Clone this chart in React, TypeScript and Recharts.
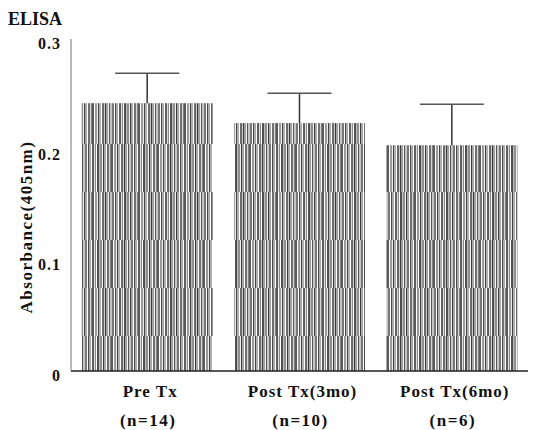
import React from 'react';
import { BarChart, Bar, XAxis, YAxis, Label } from 'recharts';

const categories = ['Pre Tx', 'Post Tx(3mo)', 'Post Tx(6mo)'];
const groupSizes = ['(n=14)', '(n=10)', '(n=6)'];
const meanAbsorbance = [0.242, 0.224, 0.204];
const errorAbsorbance = [0.027, 0.027, 0.037];
const yTicks = [0, 0.1, 0.2, 0.3];
const yTickLabels = ['0', '0.1', '0.2', '0.3'];

const data = categories.map((c, i) => ({
  name: c,
  n: groupSizes[i],
  value: meanAbsorbance[i],
  err: errorAbsorbance[i],
}));

const textStyle = { fontFamily: 'Liberation Serif', fontWeight: 700 } as React.CSSProperties;

const PatternBar = (props: any) => {
  const { x, y, width, height, payload } = props;
  const pxPerUnit = height / payload.value;
  const errTop = y - payload.err * pxPerUnit;
  const cx = x + width / 2;
  return (
    <g>
      <rect x={x} y={y} width={width} height={height} fill="url(#stripes)" />
      <line x1={cx} y1={y} x2={cx} y2={errTop} stroke="#333" strokeWidth={1.5} />
      <line x1={cx - 32} y1={errTop} x2={cx + 32} y2={errTop} stroke="#555" strokeWidth={1.5} />
    </g>
  );
};

const XTick = (props: any) => {
  const { x, y, index } = props;
  return (
    <g>
      <text x={x + 3} y={y + 26} textAnchor="middle" style={textStyle} fontSize={17} letterSpacing={1} fill="#111">
        {categories[index]}
      </text>
      <text x={x + 1} y={y + 55} textAnchor="middle" style={textStyle} fontSize={17} letterSpacing={1.5} fill="#111">
        {groupSizes[index]}
      </text>
    </g>
  );
};

const YTick = (props: any) => {
  const { x, y, index } = props;
  return (
    <text x={x} y={y + 10} textAnchor="end" style={textStyle} fontSize={16} letterSpacing={1} fill="#111">
      {yTickLabels[index]}
    </text>
  );
};

const YLabel = (props: any) => {
  const vb = props.viewBox || { x: 0, y: 0, width: 0, height: 0 };
  const lx = vb.x + 32;
  const ly = vb.y + vb.height / 2 + 22;
  return (
    <text
      x={lx}
      y={ly}
      transform={`rotate(-90, ${lx}, ${ly})`}
      textAnchor="middle"
      style={textStyle}
      fontSize={17}
      letterSpacing={1.5}
      fill="#111"
    >
      Absorbance(405nm)
    </text>
  );
};

// stripe layout for the bar texture: [x, width, colour]
const stripesA: [number, number, string][] = [
  [0, 2, '#5a5a5a'], [2, 1, '#fff'], [3, 2, '#9a9a9a'], [5, 1, '#eee'], [6, 1, '#444'],
  [7, 2, '#b0b0b0'], [9, 1, '#fff'], [10, 2, '#6a6a6a'], [12, 1, '#ccc'], [13, 1, '#3a3a3a'],
  [14, 2, '#a0a0a0'], [16, 1, '#f4f4f4'], [17, 1, '#555'], [18, 2, '#c4c4c4'], [20, 2, '#777'], [22, 1, '#fff'],
  [23, 1, '#4a4a4a'], [24, 2, '#aaa'], [26, 1, '#fff'], [27, 2, '#606060'], [29, 1, '#ddd'], [30, 1, '#8a8a8a'],
  [31, 1, '#fff'], [32, 2, '#505050'], [34, 1, '#bbb'], [35, 2, '#909090'], [37, 1, '#f0f0f0'], [38, 1, '#3c3c3c'],
  [39, 2, '#a8a8a8'], [41, 1, '#fff'], [42, 2, '#707070'], [44, 1, '#d8d8d8'], [45, 1, '#808080'],
];

export default function App() {
  return (
    <div style={{ position: 'absolute', left: 0, top: 0, width: 533, height: 430, background: '#fff' }}>
      <div
        style={{
          position: 'absolute',
          left: 8,
          top: 9,
          fontFamily: 'Liberation Serif',
          fontWeight: 700,
          fontSize: 18,
          lineHeight: '20px',
          color: '#111',
        }}
      >
        ELISA
      </div>
      <BarChart
        width={533}
        height={430}
        data={data}
        margin={{ top: 39, right: 5, left: 0, bottom: 0 }}
        barCategoryGap="7%"
      >
        <defs>
          <pattern id="stripes" patternUnits="userSpaceOnUse" width={46} height={96}>
            {stripesA.map(([sx, sw, c], i) => (
              <rect key={'a' + i} x={sx} y={0} width={sw} height={48} fill={c} />
            ))}
            {stripesA.map(([sx, sw, c], i) => (
              <rect key={'b' + i} x={(sx + 19) % 46} y={48} width={sw} height={48} fill={c} />
            ))}
          </pattern>
        </defs>
        <XAxis
          dataKey="name"
          height={59}
          tickLine={false}
          tickSize={0}
          tickMargin={0}
          axisLine={{ stroke: '#222', strokeWidth: 1.5 }}
          tick={<XTick />}
          interval={0}
        />
        <XAxis xAxisId="top" dataKey="name" orientation="top" height={0} tick={false} tickLine={false} axisLine={{ stroke: '#666', strokeWidth: 1 }} />
        <YAxis
          width={71}
          domain={[0, 0.3]}
          ticks={yTicks}
          tickLine={false}
          tickSize={0}
          tickMargin={10}
          axisLine={{ stroke: '#777', strokeWidth: 1 }}
          tick={<YTick />}
        >
          <Label content={<YLabel />} />
        </YAxis>
        <YAxis yAxisId="r" orientation="right" width={0} domain={[0, 0.3]} tick={false} tickLine={false} axisLine={{ stroke: '#777', strokeWidth: 1 }} />
        <Bar dataKey="value" shape={<PatternBar />} isAnimationActive={false} />
      </BarChart>
    </div>
  );
}
